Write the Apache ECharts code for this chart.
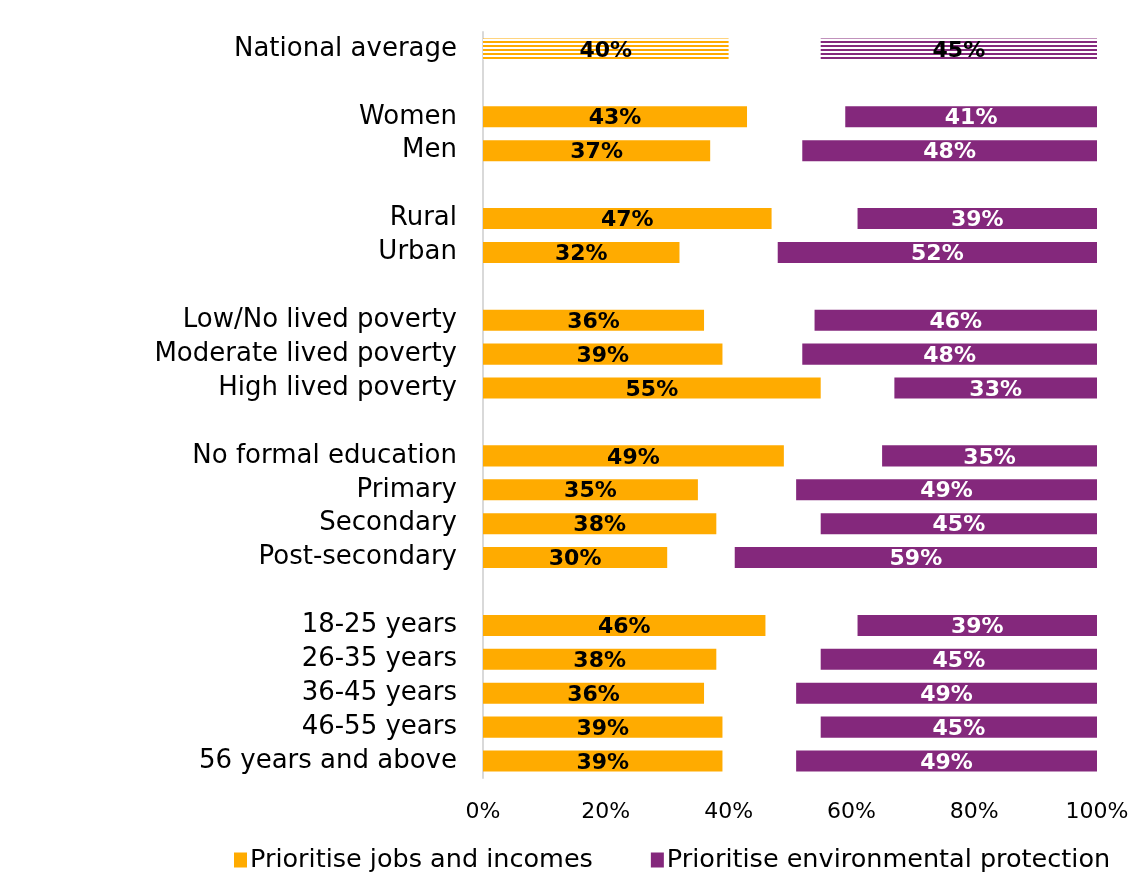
<!DOCTYPE html>
<html>
<head>
<meta charset="utf-8">
<script src="https://cdn.jsdelivr.net/npm/echarts@6/dist/echarts.min.js"></script>
<style>
  html, body { margin: 0; padding: 0; background: #fff; }
  #chart { width: 1144px; height: 890px; }
</style>
</head>
<body>
<div id="chart"></div>
<script>
// Rows of the chart, top to bottom; blank strings are spacer rows between groups
const categories = [
  'National average', ' ',
  'Women', 'Men', '  ',
  'Rural', 'Urban', '   ',
  'Low/No lived poverty', 'Moderate lived poverty', 'High lived poverty', '    ',
  'No formal education', 'Primary', 'Secondary', 'Post-secondary', '     ',
  '18-25 years', '26-35 years', '36-45 years', '46-55 years', '56 years and above'
];
// Share prioritising jobs and incomes (%)
const jobs = [40, null, 43, 37, null, 47, 32, null, 36, 39, 55, null, 49, 35, 38, 30, null, 46, 38, 36, 39, 39];
// Share prioritising environmental protection (%)
const environment = [45, null, 41, 48, null, 39, 52, null, 46, 48, 33, null, 35, 49, 45, 59, null, 39, 45, 49, 45, 49];
const xTicks = [0, 20, 40, 60, 80, 100];

const ORANGE = '#FFAB00';
const PURPLE = '#84287C';
const FONT = 'DejaVu Sans';

// Horizontal striped fill for the national average bars
function stripes(color) {
  const c = document.createElement('canvas');
  c.width = 8; c.height = 4;
  const ctx = c.getContext('2d');
  ctx.fillStyle = '#ffffff';
  ctx.fillRect(0, 0, 8, 4);
  ctx.fillStyle = color;
  ctx.fillRect(0, 1, 8, 2);
  return { image: c, repeat: 'repeat' };
}

// Remaining share (neither option) sits between the two bars, invisible
const remainder = jobs.map((v, i) => v == null ? null : 100 - v - environment[i]);

const jobsData = jobs.map((v, i) => i === 0
  ? { value: v, itemStyle: { color: stripes(ORANGE) } }
  : v);
const envData = environment.map((v, i) => i === 0
  ? { value: v, itemStyle: { color: stripes(PURPLE) }, label: { color: '#000' } }
  : v);

const labelBase = {
  show: true,
  position: 'inside',
  offset: [0, 2],
  fontFamily: FONT,
  fontWeight: 'bold',
  fontSize: 22,
  formatter: p => p.value == null ? '' : p.value + '%'
};

const chart = echarts.init(document.getElementById('chart'), null, { renderer: 'canvas' });
chart.setOption({
  animation: false,
  backgroundColor: '#fff',
  grid: { left: 483, right: 47, top: 32, bottom: 112, containLabel: false },
  legend: {
    bottom: 12,
    left: 229,
    itemWidth: 13,
    itemHeight: 15,
    itemGap: 58,
    icon: 'rect',
    textStyle: { fontFamily: FONT, fontSize: 25.5, color: '#000', padding: [0, 0, 0, -2] },
    data: ['Prioritise jobs and incomes', 'Prioritise environmental protection']
  },
  xAxis: {
    type: 'value',
    min: 0, max: 100, interval: 20,
    axisLine: { show: false },
    axisTick: { show: false },
    splitLine: { show: false },
    axisLabel: {
      margin: 23,
      fontFamily: FONT, fontSize: 22, color: '#000',
      formatter: v => xTicks.includes(v) ? v + '%' : ''
    }
  },
  yAxis: {
    type: 'category',
    inverse: true,
    data: categories,
    axisLine: { show: true, lineStyle: { color: '#D9D9D9', width: 2 } },
    axisTick: { show: false },
    axisLabel: { margin: 26, fontFamily: FONT, fontSize: 26, color: '#000', padding: [4, 0, 0, 0] }
  },
  series: [
    {
      name: 'Prioritise jobs and incomes',
      type: 'bar', stack: 'total',
      barCategoryGap: '38%',
      itemStyle: { color: ORANGE },
      label: Object.assign({}, labelBase, { color: '#000' }),
      data: jobsData
    },
    {
      name: 'gap',
      type: 'bar', stack: 'total',
      itemStyle: { color: 'transparent' },
      silent: true,
      data: remainder
    },
    {
      name: 'Prioritise environmental protection',
      type: 'bar', stack: 'total',
      itemStyle: { color: PURPLE },
      label: Object.assign({}, labelBase, { color: '#fff' }),
      data: envData
    }
  ]
});
</script>
</body>
</html>
